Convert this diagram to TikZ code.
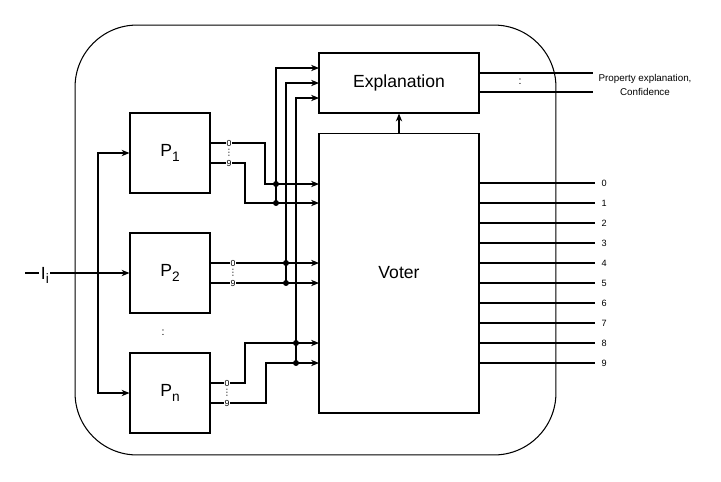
\documentclass[tikz,border=0pt]{standalone}
\usepackage{fontspec}
\setmainfont{Liberation Sans}
\newfontfamily\symfont{DejaVu Sans}
\usetikzlibrary{arrows.meta,positioning,calc}
\newcommand{\lowsub}[1]{\raisebox{-0.45ex}{\fontsize{7.8}{7.8}\selectfont #1}}

\begin{document}
\begin{tikzpicture}[
  x=0.02cm, y=-0.02cm,
  font=\fontsize{10}{12}\selectfont,
  line width=0.6pt,
  >={Stealth[length=4.5pt,width=3.6pt]},
  proc/.style={draw,minimum width=1.6cm,minimum height=1.6cm,inner sep=0pt},
  block/.style={draw,minimum width=3.2cm,inner sep=0pt},
  port/.style={fill=white,inner sep=0.3pt,font=\fontsize{5}{5}\selectfont},
  vdotz/.style={inner sep=0pt,font=\symfont\fontsize{5}{5}\selectfont},
  outlabel/.style={anchor=west,inner sep=0pt,font=\fontsize{5.2}{6}\selectfont},
  junction/.style={circle,fill,inner sep=0pt,minimum size=3.4pt},
  arrow/.style={->}
]
\useasboundingbox (0,0) rectangle (721,481);
\node[draw,rounded corners=1.24cm,minimum width=9.62cm,minimum height=8.6cm] (sys) at (315.5,240) {};

\node[proc] (p1) at (170,153) {P\lowsub{1}};
\node[proc] (p2) at (170,273) {P\lowsub{2}};
\node[proc] (pn) at (170,393) {P\lowsub{n}};
\node[font=\fontsize{6}{6}\selectfont] (pdots) at (163,333) {:};
\node[block,minimum height=1.2cm] (expl) at (399,83) {Explanation};
\node[block,minimum height=5.6cm] (voter) at (399,273) {Voter};
\draw[arrow] (voter) -- (expl);

% input split
\coordinate (in) at (25,273);
\coordinate (split) at (98,273);
\draw[arrow] (in) -- node[pos=0.19,fill=white,inner sep=0.8pt,yshift=-1.5pt] (ilabel) {I\lowsub{i}} (p2);
\draw[arrow] (split) |- (p1);
\draw[arrow] (split) |- (pn);

% ports
\coordinate (p1a) at (210,143); \coordinate (p1b) at (210,163);
\coordinate (p2a) at (210,263); \coordinate (p2b) at (210,283);
\coordinate (pna) at (210,383); \coordinate (pnb) at (210,403);
\coordinate (v1) at (319,184); \coordinate (v2) at (319,203);
\coordinate (v3) at (319,263); \coordinate (v4) at (319,283);
\coordinate (v5) at (319,343); \coordinate (v6) at (319,363);
\coordinate (e1) at (319,68); \coordinate (e2) at (319,83); \coordinate (e3) at (319,98);
\coordinate (j1) at (276,184); \coordinate (j2) at (276,203);
\coordinate (j3) at (286,263); \coordinate (j4) at (286,283);
\coordinate (j5) at (296,343); \coordinate (j6) at (296,363);

\draw[arrow] (p1a) -- ++(55,0) |- (v1);
\draw[arrow] (p1b) -- ++(35,0) |- (v2);
\draw[arrow] (p2a) -- (v3);
\draw[arrow] (p2b) -- (v4);
\draw[arrow] (pna) -- ++(35,0) |- (v5);
\draw[arrow] (pnb) -- ++(56,0) |- (v6);
\draw[arrow] (j2) |- (e1);
\draw[arrow] (j4) |- (e2);
\draw[arrow] (j6) |- (e3);
\foreach \k in {1,...,6} \node[junction] (dot\k) at (j\k) {};

\foreach \p/\x/\y in {p1/229/143,p2/233/263,pn/227/383} {
  \node[port] (\p-zero) at (\x,\y) {0};
  \node[port] (\p-nine) at (\x,\y+20) {9};
  \node[vdotz] (\p-dots) at (\x,\y+10) {⋮};
}

% voter outputs
\foreach \k in {0,...,9} {
  \coordinate (o\k) at (595,{183+20*\k});
  \draw (voter.east |- o\k) -- (o\k);
  \node[outlabel] (out\k) at (601,{183+20*\k}) {\k};
}

% explanation outputs
\coordinate (x1) at (593,73); \coordinate (x2) at (593,92);
\draw (expl.east |- x1) -- (x1);
\draw (expl.east |- x2) -- (x2);
\node[font=\fontsize{6}{6}\selectfont] (xdots) at (520,82) {:};
\node[align=center,font=\fontsize{5.6}{7.9}\selectfont] (xlabel) at (645,85) {Property explanation,\\Confidence};
\end{tikzpicture}
\end{document}
